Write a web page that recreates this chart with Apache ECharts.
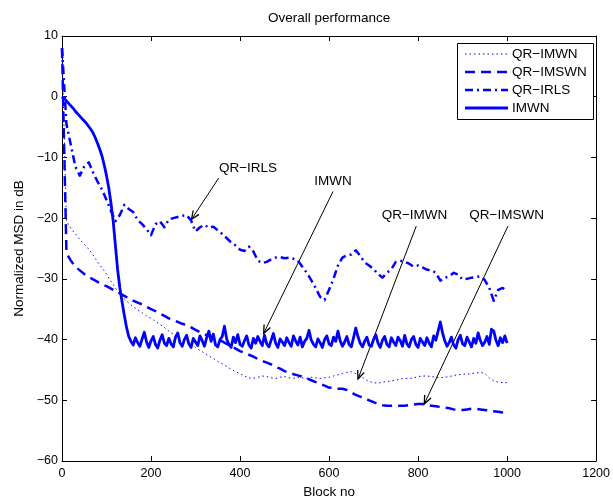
<!DOCTYPE html>
<html><head><meta charset="utf-8">
<script src="https://cdn.jsdelivr.net/npm/echarts@6/dist/echarts.min.js"></script>
<style>html,body{margin:0;padding:0;background:#fff}#c{width:613px;height:504px}</style>
</head><body><div id="c"></div>
<script>
// x positions (block numbers): QR series every 10 blocks, IMWN every 5 blocks
const blocks = [];
for (let b = 0; b <= 1000; b += 10) blocks.push(b);
const imwnBlocks = [];
for (let b = 0; b <= 1000; b += 5) imwnBlocks.push(b);

const seriesNames = ['QR\u2212IMWN', 'QR\u2212IMSWN', 'QR\u2212IRLS', 'IMWN'];

const qrImwn = [8, -20.5, -21.7, -22.6, -23.5, -24.3, -25.1, -26.1, -27.2, -28.2,
  -29.2, -30.4, -31.5, -32.5, -33.3, -34, -34.6, -35.1, -35.6, -36.1,
  -36.5, -37, -37.5, -38, -38.6, -39.1, -39.6, -40, -40.4, -40.9,
  -41.3, -41.8, -42.2, -42.7, -43.1, -43.6, -44, -44.4, -44.9, -45.3,
  -45.6, -46, -46.3, -46.4, -46.2, -46, -46.1, -46.3, -46.4, -46.2,
  -46.1, -46.3, -46.4, -46.2, -46.3, -46.4, -46.2, -46.3, -46.4, -46.3,
  -46.2, -46, -45.8, -45.6, -45.4, -45.3, -45.6, -46, -46.5, -46.9,
  -47.1, -47.2, -47, -46.9, -46.8, -46.7, -46.5, -46.4, -46.4, -46.3,
  -46.1, -46, -46, -46.1, -46.2, -46.3, -46.2, -46.1, -45.9, -45.8,
  -45.7, -45.7, -45.6, -45.5, -45.4, -45.6, -46.3, -46.8, -47, -47.1, -47.1];

const qrImswn = [8, -25.8, -27, -28, -28.6, -29.2, -29.7, -30.1, -30.5, -30.9,
  -31.2, -31.6, -32, -32.4, -32.8, -33.2, -33.6, -33.9, -34.2, -34.6,
  -35, -35.3, -35.7, -36.1, -36.5, -36.8, -37.1, -37.4, -37.6, -38,
  -38.4, -38.8, -39.1, -39.4, -39.6, -40, -40.3, -40.7, -41.1, -41.5,
  -41.9, -42.2, -42.5, -42.8, -43.2, -43.5, -43.8, -44.1, -44.5, -44.8,
  -45.2, -45.4, -45.7, -45.9, -46.1, -46.4, -46.7, -47, -47.3, -47.6,
  -47.9, -48, -48.1, -48.1, -48.3, -48.7, -49.1, -49.4, -49.7, -50,
  -50.3, -50.6, -50.8, -50.9, -50.9, -50.9, -50.9, -50.9, -50.8, -50.7,
  -50.6, -50.6, -50.8, -50.9, -51, -51.1, -51.2, -51.3, -51.5, -51.6,
  -51.6, -51.5, -51.4, -51.4, -51.5, -51.6, -51.7, -51.8, -51.9, -52, -52];

const qrIrls = [8, -4.5, -8, -11.5, -13, -11.5, -10.8, -12.5, -14, -15.3,
  -17, -18.8, -20.5, -19.5, -17.8, -18.5, -19, -20.3, -21, -21.8,
  -22.8, -21, -20.5, -21.5, -20.2, -20, -19.8, -19.6, -19.5, -20.4,
  -22.2, -21.5, -21.1, -21.6, -21.4, -22, -22.6, -23.3, -24, -24.5,
  -25.2, -25.4, -24.7, -25.5, -27, -27.4, -27.2, -26.8, -26.5, -26.4,
  -26.6, -26.5, -26.7, -27, -28, -29, -30.2, -31.5, -33, -33.5,
  -31.8, -30, -27.8, -26.5, -26.1, -26, -25.3, -26.2, -27.3, -27.8,
  -28.4, -29.2, -29.8, -29, -28.4, -27.2, -27, -27.2, -27.5, -28,
  -27.8, -28.1, -28.5, -28.6, -29, -30.3, -29.8, -29.6, -29, -29.3,
  -30.1, -30, -29.8, -29.7, -29.6, -30.2, -31.5, -33.6, -31.8, -31.5, -32];

const imwn = [0, -0.3, -0.7, -1.1, -1.5, -1.9, -2.4, -2.8, -3.2, -3.6,
  -4.0, -4.4, -4.9, -5.4, -6.0, -6.8, -7.7, -8.7, -9.8, -11.3,
  -13, -15, -17.5, -20.5, -24.5, -28.5, -31.5, -33.8, -36, -38, -39.5,
  -40.3, -40.9, -39.7, -40.5, -41.1, -39.9, -38.8, -40.4, -41.3, -40.2,
  -39.5, -40.8, -41.4, -40.1, -39.2, -40.6, -41.0, -39.8, -40.7, -41.2,
  -39.6, -38.9, -40.5, -41.1, -40.0, -39.3, -40.7, -41.3, -39.8, -40.4,
  -41.0, -39.4, -40.2, -41.1, -39.7, -38.6, -40.3, -39.1, -40.9, -41.2,
  -40.0, -39.5, -37.8, -39.9, -40.8, -41.3, -39.6, -40.5, -39.2, -40.8,
  -41.1, -40.2, -39.4, -40.9, -41.4, -39.8, -40.6, -39.5, -40.3, -41.0,
  -39.3, -40.7, -41.2, -40.1, -39.0, -40.6, -41.3, -39.9, -40.4, -41.0,
  -39.7, -40.5, -41.1, -39.4, -40.2, -40.9, -39.6, -41.2, -40.3, -39.8,
  -38.5, -40.1, -40.8, -41.2, -39.9, -40.5, -41.3, -40.0, -39.4, -40.7,
  -41.0, -39.6, -40.3, -38.6, -40.2, -41.1, -40.4, -39.5, -40.8, -41.2,
  -39.7, -38.1, -39.5, -40.6, -41.2, -40.3, -39.6, -40.9, -41.1, -40.0,
  -39.2, -40.6, -41.3, -40.1, -39.5, -40.8, -41.2, -39.7, -40.4, -41.0,
  -39.6, -40.2, -41.1, -39.3, -40.7, -41.2, -40.0, -39.5, -40.8, -41.3,
  -39.8, -40.4, -41.0, -39.7, -40.6, -41.2, -39.4, -40.1, -38.6, -37.1,
  -38.9, -40.2, -41.1, -40.5, -39.6, -40.9, -41.4, -40.0, -39.3, -40.7,
  -41.0, -39.6, -40.4, -41.2, -39.8, -40.6, -38.9, -40.2, -41.0, -40.4,
  -39.5, -40.8, -38.3, -38.6, -40.1, -41.0, -39.7, -40.5, -39.4, -40.6];

const xTicks = [0, 200, 400, 600, 800, 1000, 1200];
const yTicks = [-60, -50, -40, -30, -20, -10, 0, 10];

// annotation text / arrow in data coordinates
const annotations = [
  { text: 'QR\u2212IRLS', label: [418, -11.8], tail: [352, -13.4], tip: [291, -20.2] },
  { text: 'IMWN', label: [609, -13.9], tail: [609, -15.6], tip: [453, -39] },
  { text: 'QR\u2212IMWN', label: [792, -19.6], tail: [796, -21.3], tip: [665, -46.5] },
  { text: 'QR\u2212IMSWN', label: [999, -19.6], tail: [1002, -21.3], tip: [814, -50.6] }
];

const FONT = '"Liberation Sans", Arial, Helvetica, sans-serif';
const TXT = 13.5;
const fmt = v => String(v).replace('-', '\u2212');
const pairs = (xs, vals) => vals.map((v, i) => [xs[i], v]);
const BLUE = '#0000ff';
const styles = [
  { width: 1, type: [1.5, 3] },
  { width: 2.5, type: [10, 6] },
  { width: 2.5, type: [8, 4, 2, 4] },
  { width: 2.8, type: 'solid' }
];

const chart = echarts.init(document.getElementById('c'), null, { renderer: 'canvas' });

const axisCommon = {
  type: 'value',
  axisLine: { show: true, onZero: false, lineStyle: { color: '#000', width: 1 } },
  axisTick: { show: true, inside: true, length: 5, lineStyle: { color: '#000', width: 1 } },
  splitLine: { show: false }
};

const option = {
  animation: false,
  backgroundColor: '#fff',
  grid: { left: 62, right: 13, top: 36, bottom: 38 },
  xAxis: [
    Object.assign({}, axisCommon, {
      min: xTicks[0], max: xTicks[xTicks.length - 1], interval: 200, position: 'bottom',
      axisLabel: { color: '#000', fontFamily: FONT, fontSize: 12.5, margin: 6, formatter: fmt },
      name: 'Block no', nameLocation: 'middle', nameGap: 24,
      nameTextStyle: { color: '#000', fontFamily: FONT, fontSize: TXT }
    }),
    Object.assign({}, axisCommon, {
      min: xTicks[0], max: xTicks[xTicks.length - 1], interval: 200, position: 'top',
      axisLabel: { show: false }
    })
  ],
  yAxis: [
    Object.assign({}, axisCommon, {
      min: yTicks[0], max: yTicks[yTicks.length - 1], interval: 10, position: 'left',
      axisLabel: { color: '#000', fontFamily: FONT, fontSize: 12.5, margin: 4, formatter: fmt },
      name: 'Normalized MSD in dB', nameLocation: 'middle', nameGap: 35, nameRotate: 90,
      nameTextStyle: { color: '#000', fontFamily: FONT, fontSize: TXT }
    }),
    Object.assign({}, axisCommon, {
      min: yTicks[0], max: yTicks[yTicks.length - 1], interval: 10, position: 'right',
      axisLabel: { show: false }
    })
  ],
  series: [
    { name: seriesNames[0], data: pairs(blocks, qrImwn) },
    { name: seriesNames[1], data: pairs(blocks, qrImswn) },
    { name: seriesNames[2], data: pairs(blocks, qrIrls) },
    { name: seriesNames[3], data: pairs(imwnBlocks, imwn) }
  ].map((s, i) => Object.assign(s, {
    type: 'line', showSymbol: false, symbol: 'none',
    lineStyle: { color: BLUE, width: styles[i].width, type: styles[i].type, join: 'round' }
  }))
};
chart.setOption(option);

// title, legend box and annotations as graphics, placed through the chart's scales
const px = p => chart.convertToPixel({ xAxisIndex: 0, yAxisIndex: 0 }, p);
const g = [];
const topLeft = px([0, 10]), topRight = px([1200, 10]);
g.push({ type: 'text', x: (topLeft[0] + topRight[0]) / 2, y: 18,
  style: { text: 'Overall performance', fill: '#000', font: TXT + 'px ' + FONT, textAlign: 'center', textVerticalAlign: 'middle' } });

// legend
const LG = { x: 457, y: 43, w: 136, h: 76, lineX1: 465, lineX2: 508, textX: 512, firstY: 54, step: 18 };
g.push({ type: 'rect', shape: { x: LG.x + 0.5, y: LG.y + 0.5, width: LG.w, height: LG.h },
  style: { fill: '#fff', stroke: '#000', lineWidth: 1 }, z: 10 });
seriesNames.forEach((n, i) => {
  const yy = LG.firstY + i * LG.step;
  g.push({ type: 'line', shape: { x1: LG.lineX1, y1: yy, x2: LG.lineX2, y2: yy },
    style: { stroke: BLUE, lineWidth: styles[i].width, lineDash: styles[i].type === 'solid' ? null : styles[i].type }, z: 11 });
  g.push({ type: 'text', x: LG.textX, y: yy,
    style: { text: n, fill: '#000', font: TXT + 'px ' + FONT, textAlign: 'left', textVerticalAlign: 'middle' }, z: 11 });
});

annotations.forEach(a => {
  const L = px(a.label), T = px(a.tail), P = px(a.tip);
  g.push({ type: 'text', x: L[0], y: L[1],
    style: { text: a.text, fill: '#000', font: TXT + 'px ' + FONT, textAlign: 'center', textVerticalAlign: 'middle' } });
  g.push({ type: 'line', shape: { x1: T[0], y1: T[1], x2: P[0], y2: P[1] }, style: { stroke: '#000', lineWidth: 1 } });
  const ang = Math.atan2(P[1] - T[1], P[0] - T[0]);
  const len = 9, spread = 0.4;
  const a1 = [P[0] - len * Math.cos(ang - spread), P[1] - len * Math.sin(ang - spread)];
  const a2 = [P[0] - len * Math.cos(ang + spread), P[1] - len * Math.sin(ang + spread)];
  g.push({ type: 'polyline', shape: { points: [a1, P, a2] }, style: { stroke: '#000', lineWidth: 1.3, fill: null } });
});
chart.setOption({ graphic: g });
</script>
</body></html>
